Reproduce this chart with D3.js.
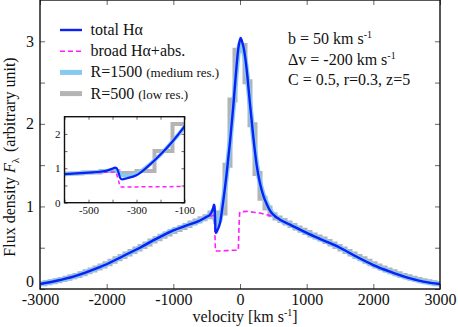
<!DOCTYPE html>
<html>
<head>
<meta charset="utf-8">
<script src="https://cdn.jsdelivr.net/npm/d3@7"></script>
<style>
  body { margin: 0; background: #fff; }
  svg text { font-family: "Liberation Serif", Tinos, "Times New Roman", Times, "DejaVu Serif", serif; fill: #111; }
</style>
</head>
<body>
<div id="chart"></div>
<script>
// velocity grid for the total / R=1500 curves (km/s)
const velocity = [-3000,-2750,-2500,-2250,-2000,-1750,-1500,-1250,-1000,-800,-600,-500,-450,-420,-400,-390,-382,-375,-368,-360,-340,-300,-250,-200,-150,-100,-60,-30,0,10,30,60,100,150,200,250,300,350,400,450,500,600,750,1000,1250,1500,1750,2000,2250,2500,2750,3000];
const totalHa = [0.06,0.10,0.15,0.22,0.30,0.40,0.50,0.61,0.71,0.77,0.83,0.875,0.90,0.94,0.99,1.02,1.0,0.88,0.72,0.68,0.71,0.80,1.07,1.40,1.78,2.22,2.62,2.88,3.02,3.04,3.00,2.90,2.66,2.24,1.84,1.50,1.28,1.13,1.03,0.95,0.90,0.84,0.78,0.68,0.59,0.50,0.39,0.29,0.21,0.14,0.09,0.06];
const medRes = [0.06,0.10,0.15,0.22,0.30,0.40,0.50,0.61,0.71,0.77,0.83,0.875,0.90,0.93,0.95,0.95,0.93,0.89,0.84,0.80,0.78,0.84,1.08,1.40,1.78,2.20,2.58,2.84,2.97,2.98,2.95,2.86,2.64,2.24,1.84,1.51,1.29,1.14,1.04,0.96,0.90,0.84,0.78,0.68,0.59,0.50,0.39,0.29,0.21,0.14,0.09,0.06];

// broad H-alpha + absorption (dashed)
const broadVel = [-3000,-2750,-2500,-2250,-2000,-1750,-1500,-1250,-1000,-800,-600,-500,-450,-400,-385,-368,-300,-200,-100,-25,-15,-5,0,100,200,300,400,500,600,750,1000,1250,1500,1750,2000,2250,2500,2750,3000];
const broadHa = [0.06,0.10,0.15,0.22,0.30,0.40,0.50,0.61,0.71,0.77,0.83,0.87,0.88,0.89,0.89,0.46,0.46,0.465,0.47,0.47,0.75,0.92,0.935,0.94,0.93,0.92,0.90,0.88,0.84,0.78,0.68,0.59,0.50,0.39,0.29,0.21,0.14,0.09,0.06];

// R=500 binned spectrum, 75 km/s bins from -3000 to 3000
const lowResBins = d3.range(-3000, 3000, 75);
const lowRes = [
  0.065,0.075,0.087,0.10,0.115,0.13,0.148,0.165,0.185,0.21,0.23,0.255,0.28,0.305,0.335,0.365,0.395,
  0.425,0.455,0.485,0.515,0.545,0.58,0.61,0.64,0.665,0.695,0.72,0.745,0.77,0.80,0.825,0.85,0.875,
  0.92,0.86,0.92,1.50,2.29,2.89,2.95,2.51,1.99,1.40,1.10,0.98,
  0.90,0.86,0.83,0.80,0.77,0.74,0.71,0.685,0.655,0.63,0.605,0.575,0.545,0.515,0.485,0.455,0.425,
  0.395,0.365,0.335,0.305,0.28,0.255,0.23,0.21,0.185,0.165,0.148,0.13,0.115,0.10,0.087,0.075,0.065];

const xTicks = [-3000,-2000,-1000,0,1000,2000,3000];
const yTicks = [0,0.5,1,1.5,2,2.5,3];
const insetXTicks = [-600,-500,-400,-300,-200,-100];
const insetYTicks = [0,0.5,1,1.5,2];

const colors = {total: "#0a22f5", medium: "#86c9f2", low: "#b4b4b4", broad: "#ff1cff"};
const serif = '"Liberation Serif", Tinos, "Times New Roman", Times, "DejaVu Serif", serif';

const W = 458, H = 327;
const svg = d3.select("#chart").append("svg")
    .attr("width", W).attr("height", H);

const totalData = velocity.map((v, i) => [v, totalHa[i]]);
const medData = velocity.map((v, i) => [v, medRes[i]]);
const broadData = broadVel.map((v, i) => [v, broadHa[i]]);
const lowData = lowResBins.map((v, i) => [v, lowRes[i]]);
lowData.push([3000, lowRes[lowRes.length - 1]]);

function drawPanel(g, x, y, id, lw) {
    const [x0, x1] = x.range(), [y0, y1] = y.range();
    svg.append("clipPath").attr("id", id)
        .append("rect").attr("x", x0).attr("y", y1).attr("width", x1 - x0).attr("height", y0 - y1);
    const lines = g.append("g").attr("clip-path", "url(#" + id + ")");
    const smooth = d3.line().x(d => x(d[0])).y(d => y(d[1])).curve(d3.curveMonotoneX);
    const step = d3.line().x(d => x(d[0])).y(d => y(d[1])).curve(d3.curveStepAfter);

    lines.append("path").datum(lowData).attr("d", step)
        .attr("fill", "none").attr("stroke", colors.low).attr("stroke-width", lw.low);
    lines.append("path").datum(medData).attr("d", smooth)
        .attr("fill", "none").attr("stroke", colors.medium).attr("stroke-width", lw.medium);
    lines.append("path").datum(broadData).attr("d", d3.line().x(d => x(d[0])).y(d => y(d[1])))
        .attr("fill", "none").attr("stroke", colors.broad).attr("stroke-width", lw.broad)
        .attr("stroke-dasharray", lw.dash);
    lines.append("path").datum(totalData).attr("d", smooth)
        .attr("fill", "none").attr("stroke", colors.total).attr("stroke-width", lw.total);
}

function drawAxes(g, x, y, xt, yt, xfmt, yfmt, fs, tick, pad) {
    const [x0, x1] = x.range(), [y0, y1] = y.range();
    const styleAxis = a => {
        a.attr("font-family", serif);
        a.select(".domain").remove();
        a.selectAll(".tick line").attr("stroke", "#666").attr("stroke-width", 1);
        a.selectAll(".tick text").attr("font-size", fs).attr("fill", "#111");
    };
    g.append("g").attr("transform", `translate(0,${y0})`)
        .call(d3.axisBottom(x).tickValues(xt).tickSizeInner(-tick).tickSizeOuter(0).tickPadding(pad.x).tickFormat(xfmt))
        .call(styleAxis);
    g.append("g").attr("transform", `translate(0,${y1})`)
        .call(d3.axisTop(x).tickValues(xt).tickSizeInner(-tick).tickSizeOuter(0).tickFormat(""))
        .call(styleAxis);
    const left = g.append("g").attr("transform", `translate(${x0},0)`)
        .call(d3.axisLeft(y).tickValues(yt).tickSizeInner(-tick).tickSizeOuter(0).tickPadding(pad.y).tickFormat(yfmt))
        .call(styleAxis);
    g.append("g").attr("transform", `translate(${x1},0)`)
        .call(d3.axisRight(y).tickValues(yt).tickSizeInner(-tick).tickSizeOuter(0).tickFormat(""))
        .call(styleAxis);
    g.append("rect").attr("x", x0).attr("y", y1).attr("width", x1 - x0).attr("height", y0 - y1)
        .attr("fill", "none").attr("stroke", "#111").attr("stroke-width", 1.4);
    return left;
}

// main panel
const x = d3.scaleLinear().domain([-3000, 3000]).range([40, 440]);
const y = d3.scaleLinear().domain([0, 3.5]).range([289, 0]);
const main = svg.append("g");
drawPanel(main, x, y, "clipMain", {low: 5, medium: 5, broad: 1.6, total: 2.4, dash: "5,3"});
const mainLeft = drawAxes(main, x, y, xTicks, yTicks, d => String(d), d => Number.isInteger(d) ? String(d) : "", 16, 5, {x: 5, y: 6});
// lift the "0" label clear of the x labels, as in the original
mainLeft.selectAll(".tick text").filter(d => d === 0).attr("dy", "-0.15em");

// axis titles
main.append("text").attr("x", 245).attr("y", 322).attr("text-anchor", "middle").attr("font-size", 16)
    .call(t => {
        t.append("tspan").text("velocity [km s");
        t.append("tspan").attr("font-size", 10).attr("dy", -6).text("-1");
        t.append("tspan").attr("dy", 6).text("]");
    });
main.append("text").attr("transform", "translate(15,157) rotate(-90)").attr("text-anchor", "middle").attr("font-size", 16)
    .call(t => {
        t.append("tspan").text("Flux density ");
        t.append("tspan").attr("font-style", "italic").text("F");
        t.append("tspan").attr("font-size", 11).attr("dy", 4).text("λ");
        t.append("tspan").attr("dy", -4).attr("dx", 6).text("(arbitrary unit)");
    });

// legend
const legend = [
    {label: "total Hα", small: "", color: colors.total, w: 2.4, dash: null},
    {label: "broad Hα+abs.", small: "", color: colors.broad, w: 1.6, dash: "5,3"},
    {label: "R=1500 ", small: "(medium res.)", color: colors.medium, w: 5, dash: null},
    {label: "R=500 ", small: "(low res.)", color: colors.low, w: 5, dash: null}
];
legend.forEach((d, i) => {
    const cy = 30 + i * 21.2;
    main.append("line").attr("x1", 60).attr("x2", 82).attr("y1", cy).attr("y2", cy)
        .attr("stroke", d.color).attr("stroke-width", d.w).attr("stroke-dasharray", d.dash);
    main.append("text").attr("x", 90.5).attr("y", cy + 5).attr("font-size", 16)
        .call(t => {
            t.append("tspan").text(d.label);
            if (d.small) t.append("tspan").attr("font-size", 13).text(d.small);
        });
});

// parameters
const params = [["b = 50 km s", "-1"], ["Δv = -200 km s", "-1"], ["C = 0.5, r=0.3, z=5", ""]];
params.forEach((p, i) => {
    main.append("text").attr("x", 288).attr("y", 44 + i * 20.5).attr("font-size", 16)
        .call(t => {
            t.append("tspan").text(p[0]);
            if (p[1]) t.append("tspan").attr("font-size", 10).attr("dy", -6).text(p[1]);
        });
});

// inset
const xi = d3.scaleLinear().domain([-600, -100]).range([64.5, 184.5]);
const yi = d3.scaleLinear().domain([0, 2.5]).range([202.7, 116.7]);
const inset = svg.append("g");
inset.append("rect").attr("x", 64.5).attr("y", 116.7).attr("width", 120).attr("height", 86).attr("fill", "#fff");
drawPanel(inset, xi, yi, "clipInset", {low: 4, medium: 4, broad: 1.5, total: 2.2, dash: "4,3"});
drawAxes(inset, xi, yi, insetXTicks, insetYTicks,
    d => [-500, -300, -100].includes(d) ? String(d) : "",
    d => Number.isInteger(d) ? String(d) : "", 11, 3, {x: 4, y: 4});
</script>
</body>
</html>
